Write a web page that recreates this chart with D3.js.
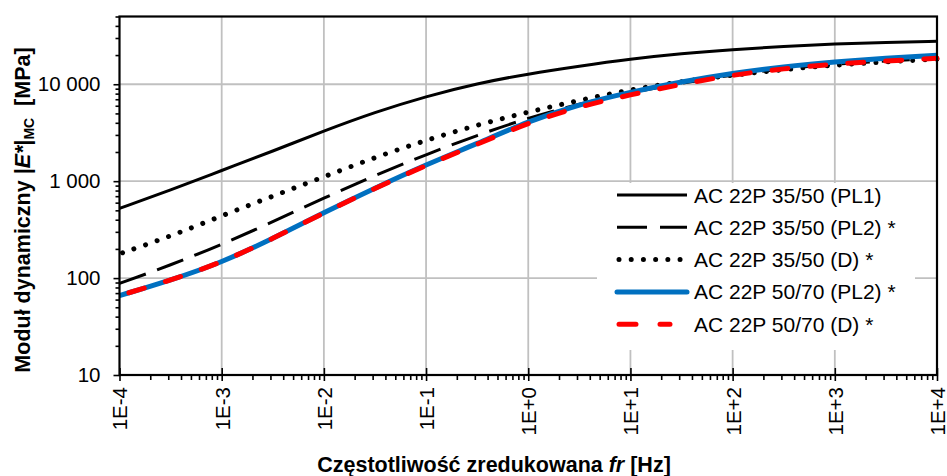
<!DOCTYPE html>
<html>
<head>
<meta charset="utf-8">
<script src="https://cdn.jsdelivr.net/npm/d3@7/dist/d3.min.js"></script>
<style>
  body { margin: 0; background: #fff; }
  svg { display: block; font-family: "Liberation Sans", Arial, sans-serif; }
</style>
</head>
<body>
<svg id="chart" width="947" height="476"></svg>
<script>
// ---- data ----
const freqExp = [-4, -3.5, -3, -2.5, -2, -1.5, -1, -0.5, 0, 0.5, 1, 1.5, 2, 2.5, 3, 3.5, 4];
const seriesNames = ["AC 22P 35/50 (PL1)", "AC 22P 35/50 (PL2) *", "AC 22P 35/50 (D) *", "AC 22P 50/70 (PL2) *", "AC 22P 50/70 (D) *"];
const pl1_3550 = [524, 810, 1290, 2040, 3300, 5150, 7500, 10200, 12800, 15400, 18200, 20700, 22800, 24600, 26000, 27100, 27800];
const pl2_3550 = [88, 136, 222, 380, 670, 1150, 1880, 2980, 4500, 6300, 8200, 10300, 12500, 14500, 16100, 17400, 18600];
const d_3550   = [178, 270, 440, 700, 1110, 1760, 2650, 3800, 5180, 6840, 8800, 10700, 12400, 14200, 15800, 17000, 18200];
const pl2_5070 = [66, 95, 145, 255, 475, 850, 1480, 2440, 4150, 6200, 8300, 10600, 13000, 15200, 17000, 18600, 19900];
const d_5070   = [66, 95, 145, 255, 472, 845, 1460, 2400, 4000, 5900, 7800, 10000, 12500, 14500, 16200, 17400, 18500];
const xTickValues = [1e-4, 1e-3, 1e-2, 1e-1, 1e0, 1e1, 1e2, 1e3, 1e4];
const xTickLabels = ["1E-4", "1E-3", "1E-2", "1E-1", "1E+0", "1E+1", "1E+2", "1E+3", "1E+4"];
const yTickValues = [10, 100, 1000, 10000];
const yTickLabels = ["10", "100", "1 000", "10 000"];

// ---- layout ----
const L = 119.5, R = 937, T = 16.5, B = 375;
const svg = d3.select("#chart");
const x = d3.scaleLog().domain([1e-4, 1e4]).range([L, R]);
const y = d3.scaleLog().domain([10, 50000]).range([B, T]);

// grid
const grid = svg.append("g").attr("stroke", "#c0c0c0").attr("stroke-width", 1.8);
grid.selectAll("line.v").data(xTickValues.slice(1, -1)).enter().append("line")
  .attr("x1", d => x(d)).attr("x2", d => x(d)).attr("y1", T).attr("y2", B);
grid.selectAll("line.h").data(yTickValues.slice(1)).enter().append("line")
  .attr("y1", d => y(d)).attr("y2", d => y(d)).attr("x1", L).attr("x2", R);

// minor tick values
const xMinor = [], yMinor = [];
for (let e = -4; e < 4; e++) for (let m = 2; m <= 9; m++) xMinor.push(m * Math.pow(10, e));
for (let e = 1; e < 5; e++) for (let m = 2; m <= 9; m++) { const v = m * Math.pow(10, e); if (v <= 50000) yMinor.push(v); }

// series
const series = [
  { vals: pl1_3550, color: "#000", width: 3, dash: null, cap: "butt", off: 0 },
  { vals: pl2_3550, color: "#000", width: 3, dash: "28,12", cap: "butt", off: 0 },
  { vals: d_3550, color: "#000", width: 5, dash: "0.01,12.2", cap: "round", off: 9 },
  { vals: pl2_5070, color: "#0070c0", width: 5, dash: null, cap: "butt", off: 0 },
  { vals: d_5070, color: "#ff0000", width: 5, dash: "16,22", cap: "round", off: 28 }
];
const line = d3.line().x(d => x(d[0])).y(d => y(d[1])).curve(d3.curveBasis);
const plot = svg.append("g");
series.forEach(s => {
  const pts = freqExp.map((e, i) => [Math.pow(10, e), s.vals[i]]);
  plot.append("path").datum(pts).attr("d", line)
    .attr("fill", "none").attr("stroke", s.color).attr("stroke-width", s.width)
    .attr("stroke-linecap", s.cap).attr("stroke-linejoin", "round")
    .attr("stroke-dasharray", s.dash).attr("stroke-dashoffset", s.off);
});

// axes
const fontTick = "20.5px";
const yAxis = svg.append("g").attr("transform", `translate(${L},0)`)
  .call(d3.axisLeft(y).tickValues(yTickValues).tickFormat((d, i) => yTickLabels[i]).tickSize(6).tickPadding(13));
yAxis.selectAll("text").attr("font-size", fontTick).attr("fill", "#000").attr("font-family", "Liberation Sans, Arial, sans-serif");
const yMinorAxis = svg.append("g").attr("transform", `translate(${L},0)`)
  .call(d3.axisLeft(y).tickValues(yMinor).tickFormat("").tickSize(4));
const xAxis = svg.append("g").attr("transform", `translate(0,${B})`)
  .call(d3.axisBottom(x).tickValues(xTickValues).tickFormat((d, i) => xTickLabels[i]).tickSize(6));
xAxis.selectAll(".tick line").attr("y1", -7);
xAxis.selectAll("text").attr("font-size", fontTick).attr("fill", "#000")
  .attr("font-family", "Liberation Sans, Arial, sans-serif")
  .attr("transform", "rotate(-90)").attr("x", -12).attr("y", 0).attr("dy", "0.36em").attr("text-anchor", "end");
const xMinorAxis = svg.append("g").attr("transform", `translate(0,${B})`)
  .call(d3.axisBottom(x).tickValues(xMinor).tickFormat("").tickSize(5));
[yAxis, yMinorAxis, xAxis, xMinorAxis].forEach(a => {
  a.select(".domain").remove();
  a.selectAll(".tick line").attr("stroke", "#000").attr("stroke-width", 1.6);
});
// frame
svg.append("rect").attr("x", L).attr("y", T).attr("width", R - L).attr("height", B - T)
  .attr("fill", "none").attr("stroke", "#000").attr("stroke-width", 2.2);

// legend
const leg = svg.append("g");
leg.append("rect").attr("x", 597).attr("y", 183).attr("width", 318).attr("height", 167).attr("fill", "#fff");
const legY = [195, 227.3, 259.6, 291.9, 324.2];
const legDash = [null, "30,13", "0.01,12.2", null, "17,24"];
series.forEach((s, i) => {
  leg.append("line").attr("x1", i === 4 ? 619 : (i === 2 ? 619 : 617))
    .attr("x2", i === 4 ? 670 : (i === 2 ? 686 : 687))
    .attr("y1", legY[i]).attr("y2", legY[i])
    .attr("stroke", s.color).attr("stroke-width", s.width)
    .attr("stroke-linecap", i === 3 ? "round" : s.cap)
    .attr("stroke-dasharray", legDash[i]);
  leg.append("text").attr("x", 694).attr("y", legY[i]).attr("dy", "0.36em")
    .attr("font-size", "21px").attr("fill", "#000").text(seriesNames[i]);
});

// axis titles
const xt = svg.append("text").attr("x", 494).attr("y", 472).attr("text-anchor", "middle")
  .attr("font-size", "21.5px").attr("font-weight", "bold").attr("fill", "#000");
xt.append("tspan").text("Częstotliwość zredukowana ");
xt.append("tspan").attr("font-style", "italic").text("fr");
xt.append("tspan").text(" [Hz]");

const yt = svg.append("text").attr("transform", "translate(30,210) rotate(-90)").attr("text-anchor", "middle")
  .attr("font-size", "21.5px").attr("font-weight", "bold").attr("fill", "#000");
yt.append("tspan").text("Moduł dynamiczny |");
yt.append("tspan").attr("font-style", "italic").text("E*");
yt.append("tspan").text("|");
yt.append("tspan").attr("font-size", "14px").attr("dy", 4).text("MC");
yt.append("tspan").attr("dy", -4).attr("xml:space", "preserve").text("  [MPa]");
</script>
</body>
</html>
